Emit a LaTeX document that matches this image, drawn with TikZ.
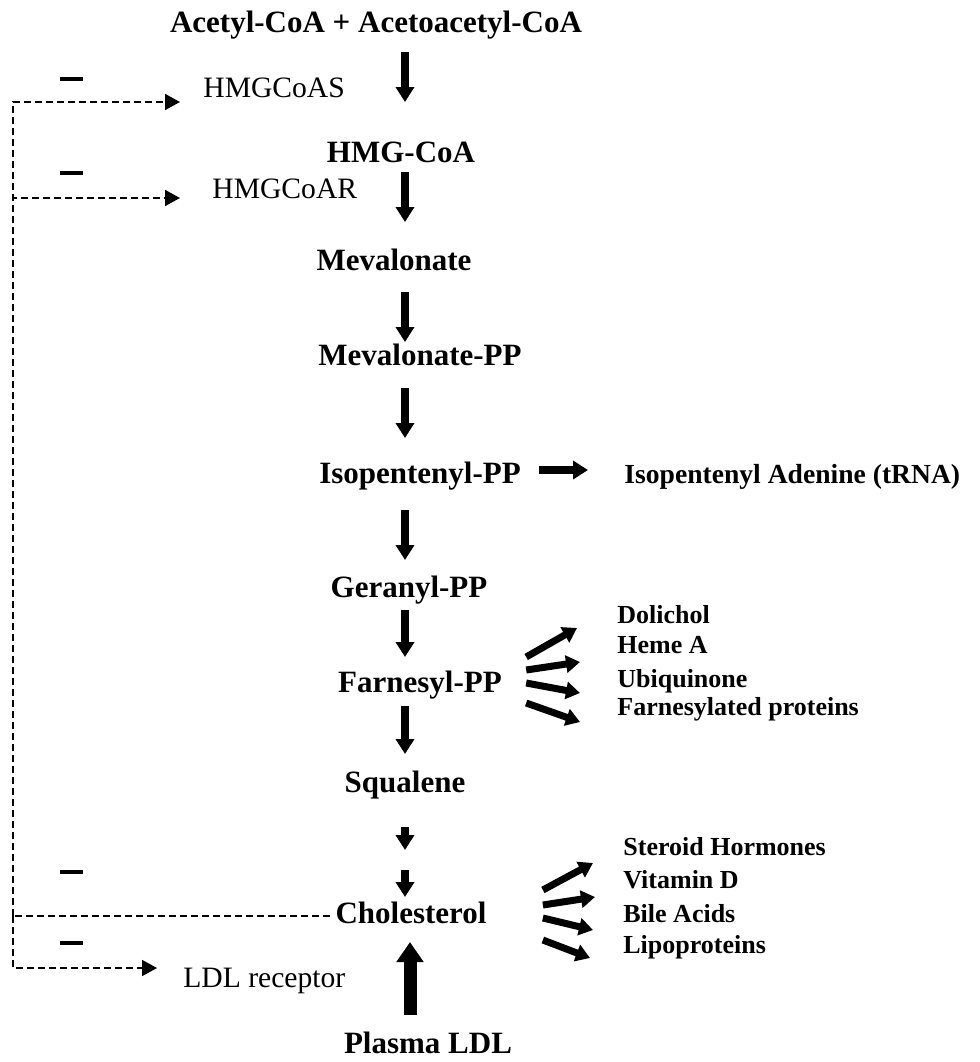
\documentclass[tikz,border=0pt]{standalone}
\usepackage{fontspec}
\setmainfont{Liberation Serif}
\usetikzlibrary{arrows.meta}

\begin{document}
\begin{tikzpicture}[
	x=0.5pt, y=-0.5pt,
	metab/.style={inner sep=0pt, anchor=base, font=\bfseries\fontsize{15.5}{18}\selectfont},
	enzyme/.style={inner sep=0pt, anchor=base west, font=\fontsize{14.8}{18}\selectfont},
	product/.style={inner sep=0pt, anchor=base west, font=\bfseries\fontsize{13}{16}\selectfont},
	inhib/.style={inner sep=0pt},
	flow/.style={line width=4pt, -{Triangle[width=9pt,length=7.5pt]}},
	bigflow/.style={line width=6.5pt, -{Triangle[width=13pt,length=10pt]}},
	branch/.style={line width=3.5pt, -{Triangle[width=8.5pt,length=7pt]}},
	feedback/.style={line width=0.85pt, dash pattern=on 3.5pt off 2pt},
	fbarrow/.style={feedback, -{Triangle[width=8pt,length=7.5pt]}}
	]
	\useasboundingbox (0,0) rectangle (980,1062);

	% Pathway
	\node[metab] (acetyl) at (376,32) {Acetyl-CoA + Acetoacetyl-CoA};
	\node[enzyme] (hmgcoas) at (203,97) {HMGCoAS};
	\node[metab] (hmgcoa) at (401,162) {HMG-CoA};
	\node[enzyme] (hmgcoar) at (212,198) {HMGCoAR};
	\node[metab] (meval) at (394,270) {Mevalonate};
	\node[metab] (mevalpp) at (420,365) {Mevalonate-PP};
	\node[metab] (isopp) at (420,483) {Isopentenyl-PP};
	\node[metab, anchor=base west, font=\bfseries\fontsize{13.8}{16}\selectfont] (ipa) at (624,483) {Isopentenyl Adenine (tRNA)};
	\node[metab] (geranyl) at (409,597) {Geranyl-PP};
	\node[metab] (farnesyl) at (420,692) {Farnesyl-PP};
	\node[metab] (squalene) at (405,792) {Squalene};
	\node[metab] (cholesterol) at (411,923) {Cholesterol};
	\node[enzyme] (ldlr) at (183,987) {LDL receptor};
	\node[metab] (plasma) at (428,1053) {Plasma LDL};

	% Products
	\node[product] (dolichol) at (617,623) {Dolichol};
	\node[product] (hemea) at (617,653) {Heme A};
	\node[product] (ubiq) at (617,687) {Ubiquinone};
	\node[product] (farnprot) at (617,715) {Farnesylated proteins};
	\node[product] (steroid) at (623,855) {Steroid Hormones};
	\node[product] (vitd) at (623,888) {Vitamin D};
	\node[product] (bile) at (623,922) {Bile Acids};
	\node[product] (lipo) at (623,953) {Lipoproteins};

	% Inhibition marks
	\node[inhib] (inh1) at (72,79) {\rule{11.5pt}{1.7pt}};
	\node[inhib] (inh2) at (72,173) {\rule{11.5pt}{1.7pt}};
	\node[inhib] (inh3) at (72,872) {\rule{11.5pt}{1.7pt}};
	\node[inhib] (inh4) at (72,943) {\rule{11.5pt}{1.7pt}};

	\coordinate (spine) at (405,0);
	\coordinate (spinebig) at (410,0);
	\coordinate (sqmid) at (405,860);
	\coordinate (fb) at (13,916);

	% Arrows
	\draw[flow, shorten <=10pt, shorten >=30pt] (acetyl.base -| spine) -- (hmgcoa.base -| spine);
	\draw[flow, shorten <=5pt, shorten >=24pt] (hmgcoa.base -| spine) -- (meval.base -| spine);
	\draw[flow, shorten <=11pt, shorten >=11.5pt] (meval.base -| spine) -- (mevalpp.base -| spine);
	\draw[flow, shorten <=11.5pt, shorten >=22.5pt] (mevalpp.base -| spine) -- (isopp.base -| spine);
	\draw[flow, shorten <=13.5pt, shorten >=18.5pt] (isopp.base -| spine) -- (geranyl.base -| spine);
	\draw[flow, shorten <=6.5pt, shorten >=17.5pt] (geranyl.base -| spine) -- (farnesyl.base -| spine);
	\draw[flow, shorten <=7pt, shorten >=19pt] (farnesyl.base -| spine) -- (squalene.base -| spine);
	\draw[flow, shorten <=17.5pt, shorten >=5pt] (squalene.base -| spine) -- (sqmid);
	\draw[flow, shorten <=5pt, shorten >=13pt] (sqmid) -- (cholesterol.base -| spine);
	\draw[bigflow, shorten <=19pt, shorten >=9.5pt] (plasma.base -| spinebig) -- (cholesterol.base -| spinebig);
	\draw[flow, shorten <=9pt, shorten >=18pt] ([yshift=6.5pt]isopp.base east) -- ([yshift=6.5pt]ipa.base west);

	\draw[branch] ([xshift=12pt,yshift=17.5pt]farnesyl.base east) -- ([xshift=-20pt,yshift=-2.5pt]dolichol.base west);
	\draw[branch] ([xshift=12pt,yshift=11pt]farnesyl.base east) -- ([xshift=-18.5pt,yshift=-4.5pt]hemea.base west);
	\draw[branch] ([xshift=12pt,yshift=4.5pt]farnesyl.base east) -- ([xshift=-18.5pt,yshift=-3pt]ubiq.base west);
	\draw[branch] ([xshift=12pt,yshift=-5.5pt]farnesyl.base east) -- ([xshift=-18.5pt,yshift=-3.5pt]farnprot.base west);

	\draw[branch] ([xshift=28pt,yshift=16.5pt]cholesterol.base east) -- ([xshift=-15pt,yshift=-4pt]steroid.base west);
	\draw[branch] ([xshift=28pt,yshift=9pt]cholesterol.base east) -- ([xshift=-14pt,yshift=-4.5pt]vitd.base west);
	\draw[branch] ([xshift=28pt,yshift=2.5pt]cholesterol.base east) -- ([xshift=-15pt,yshift=-4pt]bile.base west);
	\draw[branch] ([xshift=28pt,yshift=-8.5pt]cholesterol.base east) -- ([xshift=-16.5pt,yshift=-2.5pt]lipo.base west);

	% Feedback
	\draw[feedback] ([xshift=-2.5pt,yshift=3.5pt]cholesterol.base west) -- (fb);
	\draw[fbarrow] (fb) |- ([xshift=-11.5pt,yshift=-2.5pt]hmgcoas.base west);
	\draw[fbarrow] (fb) |- ([xshift=-16pt]hmgcoar.base west);
	\draw[fbarrow] (fb) |- ([xshift=-13pt,yshift=9.5pt]ldlr.base west);

\end{tikzpicture}
\end{document}
